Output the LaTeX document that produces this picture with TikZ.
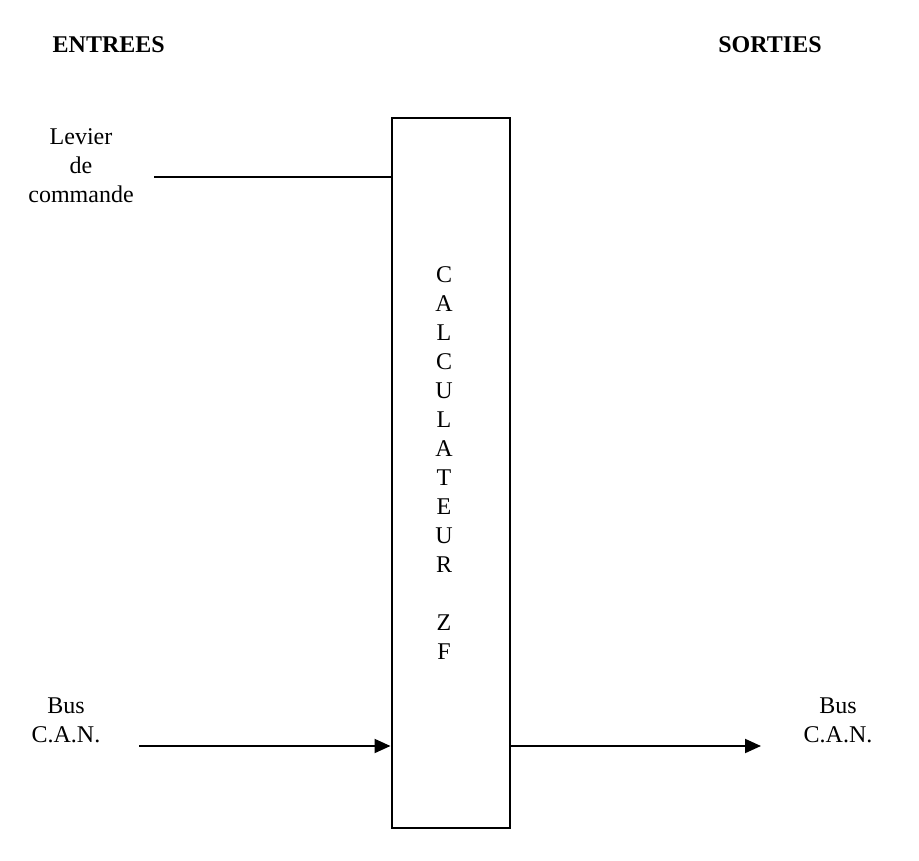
\documentclass[tikz,border=0pt]{standalone}
\usepackage{fontspec}
\setmainfont{Liberation Serif}
\usetikzlibrary{arrows.meta}
\tikzset{
  txt/.style={inner sep=0pt, align=center, font=\fontsize{24}{29}\selectfont},
  head/.style={inner sep=0pt, anchor=base, font=\fontsize{24}{29}\selectfont\bfseries},
  wire/.style={line width=2pt},
  sig/.style={line width=2pt, -{Triangle[length=16pt,width=14pt]}},
  unit/.style={draw, line width=2pt, inner sep=0pt, minimum width=118pt, minimum height=710pt}
}
\begin{document}
\begin{tikzpicture}[x=1pt,y=-1pt]
\useasboundingbox (0,0) rectangle (919,861);
\node[head] (entrees) at (108.7,53) {ENTREES};
\node[head] (sorties) at (770,53) {SORTIES};
\node[unit] (calc) at (450.5,473) {};
\node[txt] (calctxt) at (444,463.3) {C\\A\\L\\C\\U\\L\\A\\T\\E\\U\\R\\[29pt]Z\\F};
\node[txt] (levier) at (81,165.8) {Levier\\de\\commande};
\node[txt] (busin) at (66,720) {Bus\\C.A.N.};
\node[txt] (busout) at (838,720) {Bus\\C.A.N.};
\coordinate (levstart) at (154,177);
\coordinate (instart) at (139,746);
\coordinate (outend) at (761,746);
\draw[wire] (levstart) -- (levstart -| calc.west);
\draw[sig] (instart) -- (instart -| calc.west);
\draw[sig] (outend -| calc.east) -- (outend);
\end{tikzpicture}
\end{document}
